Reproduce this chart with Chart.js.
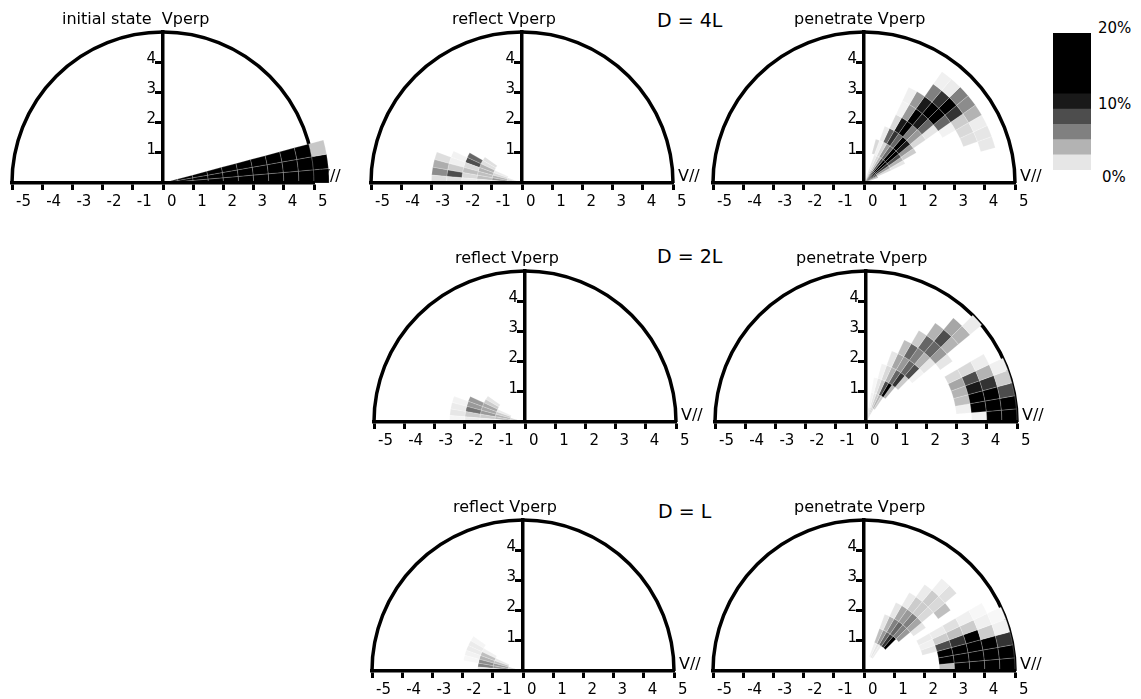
<!DOCTYPE html>
<html>
<head>
<meta charset="utf-8">
<script src="https://cdn.jsdelivr.net/npm/chart.js@4.4.1/dist/chart.umd.min.js"></script>
<style>
  body { margin: 0; background: #fff; }
  #page { position: relative; width: 1141px; height: 699px; overflow: hidden; font-family: "DejaVu Sans", sans-serif; }
  #page canvas { position: absolute; }
  .lbl { position: absolute; line-height: 1; white-space: nowrap; color: #000; }
</style>
</head>
<body>
<div id="page">
  <div class="lbl" style="left:657px;top:11px;font-size:19px">D = 4L</div>
  <div class="lbl" style="left:657px;top:247px;font-size:19px">D = 2L</div>
  <div class="lbl" style="left:658px;top:502px;font-size:19px">D = L</div>
  <div class="lbl" style="left:1098px;top:21px;font-size:15px">20%</div>
  <div class="lbl" style="left:1098px;top:97px;font-size:15px">10%</div>
  <div class="lbl" style="left:1102px;top:170px;font-size:15px">0%</div>
</div>
<script>
// bins: speed step 0.5, pitch angle step 5 deg
const radialStep = 0.5;
const angleStep = 5;
const xTicks = [-5, 5];
const yTickValues = [1, 2, 3, 4];

// each row: [speed bin, first angle bin, percent per angle bin...]
const initialState = [
  [0, 0, 14, 14, 14], [1, 0, 14, 14, 14], [2, 0, 14, 14, 14], [3, 0, 14, 14, 14],
  [4, 0, 14, 14, 14], [5, 0, 14, 14, 14], [6, 0, 14, 14, 14], [7, 0, 14, 14, 14],
  [8, 0, 14, 14, 14], [9, 0, 14, 14, 14], [10, 0, 14, 14, 2.2]
];

const reflect4L = [
  [0, 32, 1, 2, 3, 1],
  [1, 31, 0.8, 1.5, 3, 4, 1.5],
  [2, 29, 1.2, 1.2, 3, 3, 2.5, 2.5, 1],
  [3, 30, 6, 7, 1.5, 2.5, 1.5, 0.8],
  [4, 31, 0.5, 0.6, 2, 7, 1.2],
  [5, 32, 1.3, 3.2, 4.5, 1.3]
];

const penetrate4L = [
  [0, 4, 3, 5, 8, 9, 10, 9, 7, 4, 2, 1],
  [1, 5, 1.5, 4, 8, 10, 10, 7, 3, 1.5, 0.8],
  [2, 5, 1, 3, 7, 11, 10, 6, 4, 1.5, 0.5, 1.5],
  [3, 6, 2, 4, 9, 12, 6, 8, 6, 0.8],
  [4, 7, 1.5, 4, 5, 12, 9, 1.5],
  [5, 7, 1, 6, 9, 12, 4, 0.5],
  [6, 6, 0.5, 6, 12, 12, 9, 4, 0.6],
  [7, 4, 1.2, 1.5, 2, 8, 12, 8, 5],
  [8, 3, 0.9, 1, 0.7, 3, 4.5, 5, 0.8, 0.6]
];

const reflect2L = [
  [0, 33, 2, 3, 1],
  [1, 31, 0.8, 2, 3, 2.5, 0.5],
  [2, 29, 1, 2, 3.5, 3.5, 4, 2, 0.8],
  [3, 31, 4, 4, 5.5, 2, 0.8],
  [4, 32, 0.5, 0.8, 1, 0.4]
];

const penetrate2L = [
  [0, 12, 1.5, 2, 1.5, 1],
  [1, 11, 2, 3, 2, 1, 0.5],
  [2, 10, 3, 10, 7, 2, 1, 0.3],
  [3, 9, 2, 8, 6, 3, 1.5, 0.5],
  [4, 8, 0.5, 7, 6, 4, 3.5, 1],
  [5, 8, 1, 3, 5, 6, 2.5],
  [6, 1, 0.6, 2.5, 3, 3.5, 1.5, 0, 1, 4, 6, 6, 2],
  [7, 0, 0.5, 12, 12, 9, 7, 1.5, 0, 0, 3, 7, 3],
  [8, 0, 12, 12, 12, 8, 3, 0.7, 0, 0, 3, 3.5],
  [9, 0, 12, 12, 7, 2, 0.6, 0, 0, 0, 0.8]
];

const reflectL = [
  [0, 33, 2, 3],
  [1, 31, 1, 2.5, 4, 4, 1],
  [2, 30, 0.6, 2.5, 3, 4.5, 5, 1],
  [3, 29, 0.4, 0.8, 0.8, 0.5, 0.3]
];

const penetrateL = [
  [1, 11, 0.8, 1, 0.6],
  [2, 9, 10, 8, 6, 4, 2.5],
  [3, 8, 4, 5, 6, 5, 3, 1],
  [4, 3, 1, 0.6, 0.8, 0, 1, 3.5, 5, 4, 3.5, 1],
  [5, 0, 2.5, 12, 12, 7, 2, 0.8, 0, 0, 1.5, 2, 2, 0.8],
  [6, 0, 12, 12, 12, 8, 2.5, 1.2, 0, 2.5, 1.5, 2, 0.8],
  [7, 0, 12, 12, 12, 12, 2, 0.6, 0, 0, 1.2, 0.6],
  [8, 0, 12, 12, 12, 2, 0.6, 0.3],
  [9, 0, 12, 12, 8, 0.6, 0.3]
];

// colour bar: band heights and the percent each band stands for
const legendSpans = [2, 2, 2, 2, 2, 8];
const legendLevels = [1, 3, 5, 7, 9, 15];

Chart.defaults.font.family = '"DejaVu Sans", sans-serif';
Chart.defaults.font.size = 15;
Chart.defaults.color = '#000';

const shade = (p) => {
  const g = Math.round(255 * (1 - Math.min(p, 10) / 10));
  return `rgb(${g},${g},${g})`;
};

const page = document.getElementById('page');

const panels = [
  { cells: initialState, title: 'initial state  Vperp', left: 12, base: 183, titleDx: -101 },
  { cells: reflect4L, title: 'reflect Vperp', left: 371, base: 183, titleDx: -70 },
  { cells: penetrate4L, title: 'penetrate Vperp', left: 713, base: 183, titleDx: -70 },
  { cells: reflect2L, title: 'reflect Vperp', left: 374, base: 422, titleDx: -70 },
  { cells: penetrate2L, title: 'penetrate Vperp', left: 715, base: 422, titleDx: -70 },
  { cells: reflectL, title: 'reflect Vperp', left: 372, base: 671, titleDx: -70 },
  { cells: penetrateL, title: 'penetrate Vperp', left: 713, base: 671, titleDx: -70 }
];

const cellsPlugin = (panel) => ({
  id: 'polarCells',
  beforeDraw(chart) {
    const { ctx, chartArea } = chart;
    const xs = chart.scales.x, ys = chart.scales.y;
    const cx = xs.getPixelForValue(0), cy = ys.getPixelForValue(0);
    const sx = xs.getPixelForValue(1) - cx, sy = cy - ys.getPixelForValue(1);
    ctx.save();
    // title, V// label, Vperp tick labels
    ctx.fillStyle = '#000';
    ctx.font = '16px "DejaVu Sans", sans-serif';
    ctx.textAlign = 'left';
    ctx.textBaseline = 'alphabetic';
    ctx.fillText(panel.title, cx + panel.titleDx, chartArea.top - 8);
    ctx.fillText('V//', xs.getPixelForValue(xTicks[1]) + 5, cy - 2);
    ctx.font = '15px "DejaVu Sans", sans-serif';
    ctx.textAlign = 'right';
    ctx.textBaseline = 'middle';
    yTickValues.forEach(v => ctx.fillText(String(v), cx - 7, ys.getPixelForValue(v) - 3));
    // half circle
    ctx.beginPath();
    ctx.ellipse(cx, cy, 5 * sx, 5 * sy, 0, Math.PI, 2 * Math.PI);
    ctx.lineWidth = 3.5;
    ctx.strokeStyle = '#000';
    ctx.stroke();
    // cells
    ctx.lineWidth = 0.6;
    ctx.strokeStyle = 'rgba(255,255,255,0.35)';
    panel.cells.forEach(([k, a0, ...vals]) => {
      vals.forEach((p, i) => {
        if (!p) return;
        const r0 = k * radialStep, r1 = r0 + radialStep;
        const t0 = (a0 + i) * angleStep * Math.PI / 180;
        const t1 = t0 + angleStep * Math.PI / 180;
        ctx.beginPath();
        ctx.ellipse(cx, cy, r1 * sx, r1 * sy, 0, -t0, -t1, true);
        if (r0 > 0) ctx.ellipse(cx, cy, r0 * sx, r0 * sy, 0, -t1, -t0, false);
        else ctx.lineTo(cx, cy);
        ctx.closePath();
        ctx.fillStyle = shade(p);
        ctx.fill();
        ctx.stroke();
      });
    });
    ctx.restore();
  }
});

const makePanel = (panel) => {
  const canvas = document.createElement('canvas');
  canvas.width = 364;
  canvas.height = 209;
  canvas.style.left = (panel.left - 12) + 'px';
  canvas.style.top = (panel.base - 181) + 'px';
  page.appendChild(canvas);
  new Chart(canvas, {
    type: 'scatter',
    data: { datasets: [] },
    options: {
      responsive: false,
      animation: false,
      layout: { padding: { left: 12, right: 50, top: 30, bottom: 0 } },
      plugins: { legend: { display: false }, tooltip: { enabled: false } },
      scales: {
        x: {
          type: 'linear', min: xTicks[0], max: xTicks[1],
          afterFit: (s) => { s.height = 28; },
          ticks: { stepSize: 1, autoSkip: false, maxRotation: 0, align: 'start', labelOffset: 4, padding: 3 },
          grid: { display: true, drawOnChartArea: false, drawTicks: true, tickLength: 7, tickWidth: 3, tickColor: '#000' },
          border: { display: true, color: '#000', width: 3.5 }
        },
        y: {
          type: 'linear', min: 0, max: 5, position: { x: 0 },
          afterBuildTicks: (s) => { s.ticks = yTickValues.map(v => ({ value: v })); },
          ticks: { display: false },
          grid: { display: true, drawOnChartArea: false, drawTicks: true, tickLength: 6, tickWidth: 3, tickColor: '#000' },
          border: { display: true, color: '#000', width: 3.5 }
        }
      }
    },
    plugins: [cellsPlugin(panel)]
  });
};

panels.forEach(makePanel);

// colour bar
const cb = document.createElement('canvas');
cb.width = 38;
cb.height = 137;
cb.style.left = '1053px';
cb.style.top = '33px';
page.appendChild(cb);
new Chart(cb, {
  type: 'bar',
  data: {
    labels: [''],
    datasets: legendSpans.map((v, i) => ({
      data: [v], backgroundColor: shade(legendLevels[i]),
      barPercentage: 1, categoryPercentage: 1, borderWidth: 0
    }))
  },
  options: {
    responsive: false,
    animation: false,
    layout: { padding: 0 },
    plugins: { legend: { display: false }, tooltip: { enabled: false } },
    scales: {
      x: { display: false, stacked: true },
      y: { display: false, stacked: true, min: 0, max: 18 }
    }
  }
});
</script>
</body>
</html>
